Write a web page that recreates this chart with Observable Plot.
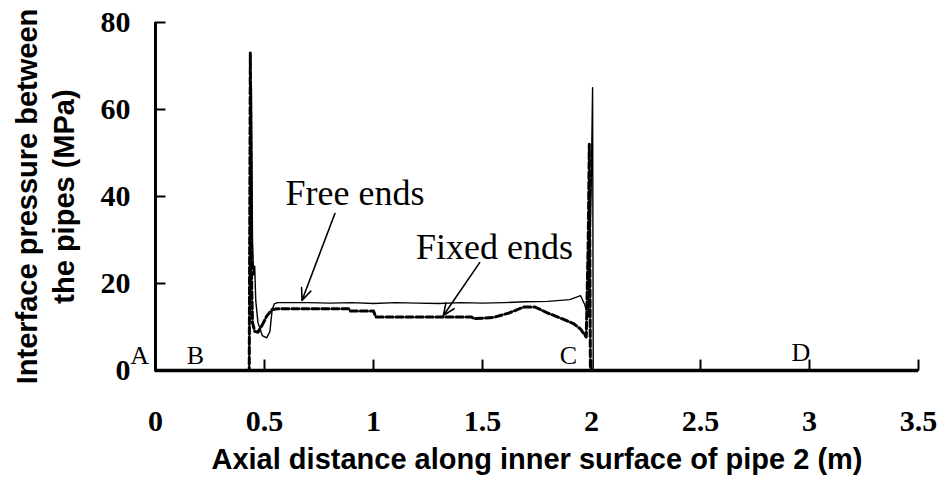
<!DOCTYPE html>
<html><head><meta charset="utf-8">
<script src="https://cdn.jsdelivr.net/npm/d3@7"></script>
<script src="https://cdn.jsdelivr.net/npm/@observablehq/plot@0.6"></script>
<style>body{margin:0;background:#fff}</style>
</head><body><div id="chart"></div>
<script>
const xTicks = [0, 0.5, 1, 1.5, 2, 2.5, 3, 3.5];
const yTicks = [0, 20, 40, 60, 80];

const freeX = [0, 0.43, 0.44, 0.445, 0.45, 0.455, 0.46, 0.47, 0.49, 0.51, 0.525, 0.535, 0.545, 0.56, 0.7, 0.8, 0.9, 1.0, 1.1, 1.2, 1.3, 1.4, 1.5, 1.6, 1.7, 1.8, 1.9, 1.95, 1.97, 1.985, 1.998, 2.005, 2.008, 3.5];
const freeY = [0, 0, 65, 30, 22, 24, 16, 11, 8, 7.5, 9, 14, 15.3, 15.6, 15.6, 15.5, 15.6, 15.4, 15.6, 15.5, 15.4, 15.6, 15.5, 15.6, 15.8, 15.9, 16.3, 17.2, 15, 12.3, 40, 65, 0, 0];

const fixedX = [0, 0.43, 0.435, 0.438, 0.441, 0.445, 0.455, 0.47, 0.49, 0.51, 0.535, 0.56, 0.7, 0.886, 0.89, 1.0, 1.01, 1.2, 1.45, 1.46, 1.55, 1.62, 1.69, 1.74, 1.8, 1.86, 1.92, 1.95, 1.976, 1.985, 1.99, 1.995, 3.5];
const fixedY = [0, 0, 73, 45, 20, 11, 9, 8.8, 10.5, 12.5, 14, 14.2, 14.2, 14.2, 13.7, 13.7, 12.3, 12.3, 12.3, 11.9, 12.2, 13.2, 14.6, 14.6, 13.2, 12, 10.7, 9.5, 7.7, 30, 52, 0, 0];

const pointLabels = ["A", "B", "C", "D"];
const pointX = [-0.073, 0.183, 1.894, 2.96];
const pointY = [3.4, 3.4, 3.4, 4.2];

const seriesNames = ["Free ends", "Fixed ends"];
const nameX = [0.915, 1.555];
const nameY = [40.7, 28.3];
const arrowX1 = [0.823, 1.487];
const arrowY1 = [36.1, 24.8];
const arrowX2 = [0.672, 1.32];
const arrowY2 = [16.1, 12.6];

const free = freeX.map((x, i) => ({x, y: freeY[i]}));
const fixed = fixedX.map((x, i) => ({x, y: fixedY[i]}));
const pts = pointLabels.map((t, i) => ({t, x: pointX[i], y: pointY[i]}));
const names = seriesNames.map((t, i) => ({t, x: nameX[i], y: nameY[i], x1: arrowX1[i], y1: arrowY1[i], x2: arrowX2[i], y2: arrowY2[i]}));

const serif = "'Liberation Serif', 'Times New Roman', serif";
const sans = "'Liberation Sans', Arial, sans-serif";

const chart = Plot.plot({
  width: 946, height: 487,
  marginLeft: 155, marginRight: 28, marginTop: 22, marginBottom: 117,
  x: {domain: [0, 3.5]},
  y: {domain: [0, 80]},
  style: {background: "#fff", color: "#000"},
  marks: [
    Plot.line(free, {x: "x", y: "y", stroke: "#000", strokeWidth: 1.4}),
    Plot.line(fixed, {x: "x", y: "y", stroke: "#000", strokeWidth: 3, strokeDasharray: "7,3"}),
    Plot.ruleX(xTicks.slice(1), {y1: 0, y2: 2.4, stroke: "#000", strokeWidth: 2}),
    Plot.ruleY(yTicks.slice(1), {x1: 0, x2: 0.048, stroke: "#000", strokeWidth: 2}),
    Plot.ruleX([0], {y1: 0, y2: 80, stroke: "#000", strokeWidth: 3}),
    Plot.ruleY([0], {x1: 0, x2: 3.5, stroke: "#000", strokeWidth: 3.5}),
    Plot.axisX(xTicks, {tickSize: 0, tickPadding: 39, fontSize: 30, fontWeight: "bold", fontFamily: serif, tickFormat: d => String(d), label: null}),
    Plot.axisY(yTicks, {tickSize: 0, tickPadding: 25, fontSize: 30, fontWeight: "bold", fontFamily: serif, label: null}),
    Plot.text(["Axial distance along inner surface of pipe 2 (m)"], {frameAnchor: "bottom", dy: 98, fontSize: 29, fontWeight: "bold", fontFamily: sans}),
    Plot.text(["Interface pressure between\nthe pipes (MPa)"], {frameAnchor: "left", textAnchor: "middle", dx: -112, rotate: -90, fontSize: 29, fontWeight: "bold", fontFamily: sans, lineHeight: 1.3}),
    Plot.text(pts, {x: "x", y: "y", text: "t", fontSize: 26, fontFamily: serif, clip: false}),
    Plot.text(names, {x: "x", y: "y", text: "t", fontSize: 36, fontFamily: serif}),
    Plot.arrow(names, {x1: "x1", y1: "y1", x2: "x2", y2: "y2", stroke: "#000", strokeWidth: 1.6, headLength: 12, headAngle: 45, bend: 0})
  ]
});
document.getElementById("chart").appendChild(chart);
</script>
</body></html>
